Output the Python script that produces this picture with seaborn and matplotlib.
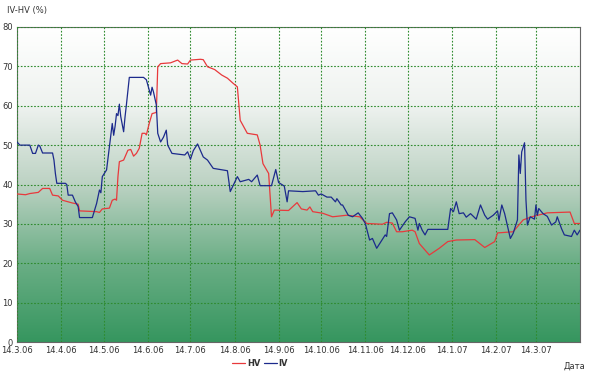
import numpy as np
import pandas as pd
import matplotlib
matplotlib.use("Agg")
import matplotlib.pyplot as plt
import matplotlib.dates as mdates
from matplotlib.colors import LinearSegmentedColormap
from matplotlib.ticker import FuncFormatter
import seaborn as sns

# Data: days since 14.3.06 and value in %
start_date = pd.Timestamp("2006-03-14")

hv_days = [0, 6, 9, 15, 18, 23, 25, 29, 32, 39, 43, 44, 56, 58, 60, 65, 67, 69, 70, 71,
           72, 75, 78, 80, 82, 84, 86, 88, 90, 91, 93, 95, 98, 99, 101, 108, 113, 116, 120, 122,
           129, 131, 134, 139, 144, 148, 152, 155, 157, 162, 169, 171, 173, 177, 179, 181, 191, 197, 200, 204,
           206, 208, 215, 222, 232, 241, 246, 257, 260, 264, 267, 271, 278, 280, 283, 290, 297, 303, 309, 322,
           329, 336, 338, 349, 356, 362, 373, 389, 392, 396]
hv_values = [37.6, 37.4, 37.7, 38.0, 39.0, 39.0, 37.3, 37.1, 36.0, 35.3, 35.0, 33.3, 33.1, 32.9, 33.8, 34.0, 36.0, 36.3, 36.0, 42.0,
             45.8, 46.2, 48.7, 48.9, 47.2, 47.9, 49.2, 53.0, 53.0, 52.6, 55.5, 58.0, 58.3, 69.9, 70.7, 70.9, 71.6, 70.7, 70.6, 71.6,
             71.8, 71.7, 69.9, 69.2, 67.8, 67.0, 65.7, 64.8, 56.3, 53.0, 52.6, 50.0, 45.3, 42.8, 31.8, 33.5, 33.4, 35.4, 33.8, 33.5,
             34.3, 33.1, 32.7, 31.8, 32.2, 31.8, 30.1, 29.9, 30.4, 30.2, 28.0, 28.0, 28.4, 28.0, 25.0, 22.1, 23.8, 25.5, 25.9, 26.0,
             24.0, 25.5, 27.7, 28.0, 31.0, 31.8, 32.8, 33.0, 30.1, 30.1]

iv_days = [0, 2, 9, 11, 13, 15, 16, 18, 25, 26, 27, 28, 34, 35, 36, 39, 41, 43, 44, 53,
           56, 58, 59, 60, 63, 65, 67, 68, 69, 70, 71, 72, 73, 75, 76, 77, 79, 89, 91, 94,
           95, 96, 98, 99, 101, 103, 105, 106, 109, 118, 120, 122, 124, 127, 131, 134, 138, 148, 150, 155,
           157, 163, 165, 169, 171, 179, 182, 184, 188, 190, 191, 201, 210, 212, 214, 218, 221, 224, 225, 228,
           229, 233, 236, 240, 243, 245, 248, 250, 253, 256, 259, 260, 262, 264, 267, 269, 273, 276, 280, 282,
           283, 285, 287, 289, 303, 305, 307, 309, 311, 314, 316, 319, 321, 323, 326, 329, 331, 335, 338, 339,
           341, 343, 347, 349, 352, 353, 354, 355, 357, 358, 359, 361, 364, 365, 366, 367, 370, 373, 376, 379,
           380, 383, 385, 390, 392, 394, 396]
iv_values = [50.8, 50.0, 50.0, 47.9, 47.9, 50.0, 49.8, 48.0, 48.0, 46.2, 42.8, 40.3, 40.3, 40.0, 37.3, 37.3, 35.6, 34.4, 31.6, 31.6,
             35.2, 38.6, 37.9, 42.0, 43.7, 49.6, 55.5, 52.5, 54.8, 58.0, 57.5, 60.4, 57.2, 53.4, 57.2, 60.4, 67.2, 67.2, 66.6, 62.7,
             64.7, 63.5, 60.2, 53.0, 50.8, 52.0, 53.8, 50.0, 47.9, 47.5, 48.3, 46.4, 48.6, 50.3, 47.0, 46.2, 44.1, 43.5, 38.2, 42.0,
             40.7, 41.3, 40.7, 42.4, 39.7, 39.7, 43.8, 40.5, 39.6, 35.6, 38.4, 38.2, 38.4, 37.3, 37.6, 36.8, 36.8, 35.6, 36.4, 34.8,
             34.8, 32.2, 31.8, 32.8, 31.4, 30.1, 25.9, 26.3, 23.8, 25.5, 27.2, 26.8, 32.6, 32.8, 31.0, 28.4, 30.5, 31.8, 31.4, 28.4,
             30.1, 28.4, 27.2, 28.6, 28.6, 33.9, 33.1, 35.6, 32.6, 32.8, 31.7, 32.6, 31.9, 31.2, 34.8, 32.2, 31.2, 32.2, 33.3, 30.9,
             34.8, 32.6, 26.3, 27.6, 31.0, 47.5, 42.8, 48.3, 50.6, 36.0, 29.7, 31.8, 31.2, 34.8, 32.2, 33.9, 32.6, 31.9, 29.7, 30.5,
             31.8, 28.8, 27.2, 26.8, 28.4, 27.2, 28.4]

tick_labels = ["14.3.06", "14.4.06", "14.5.06", "14.6.06", "14.7.06", "14.8.06", "14.9.06",
               "14.10.06", "14.11.06", "14.12.06", "14.1.07", "14.2.07", "14.3.07"]

hv = pd.DataFrame({"date": start_date + pd.to_timedelta(hv_days, unit="D"), "value": hv_values})
iv = pd.DataFrame({"date": start_date + pd.to_timedelta(iv_days, unit="D"), "value": iv_values})

sns.set_style("white")
plt.rcParams["font.family"] = ["DejaVu Sans"]

fig = plt.figure(figsize=(6, 3.74), dpi=100)
ax = fig.add_axes([17 / 600, 1 - 342 / 374, 563 / 600, 315 / 374])

x_end = pd.Timestamp("2007-04-14")
ax.set_xlim(start_date, x_end)
ax.set_ylim(0, 80)

# vertical gradient background, white at top to green at bottom
cmap = LinearSegmentedColormap.from_list(
    "bg", [(0.0, "#36965f"), (0.25, "#6aae85"), (0.5, "#bcd2c3"), (0.75, "#eef2ef"), (1.0, "#ffffff")])
grad = np.linspace(0, 1, 256).reshape(-1, 1)
ax.imshow(grad, cmap=cmap, aspect="auto", origin="lower",
          extent=[mdates.date2num(start_date), mdates.date2num(x_end), 0, 80], zorder=0)

sns.lineplot(data=hv, x="date", y="value", ax=ax, color="#e8393c", linewidth=0.9, label="HV", zorder=3)
sns.lineplot(data=iv, x="date", y="value", ax=ax, color="#1c2a8c", linewidth=0.9, label="IV", zorder=4)

tick_dates = [start_date + pd.DateOffset(months=i) for i in range(len(tick_labels))]
ax.set_xticks(tick_dates)
ax.set_xticklabels(tick_labels)
ax.set_yticks(range(0, 81, 10))
ax.tick_params(axis="both", length=0, labelsize=6, labelcolor="#333333", pad=3)

ax.grid(True, color="#2e8b2e", linestyle=(0, (1.5, 1.5)), linewidth=0.8, zorder=2)
ax.set_axisbelow(False)
for s in ax.spines.values():
    s.set_color("#666666")
    s.set_linewidth(0.8)

ax.set_xlabel("")
ax.set_ylabel("")
fig.text(7 / 600, 1 - 10 / 374, "IV-HV (%)", fontsize=6, color="#333333", va="center", ha="left")
fig.text(585 / 600, 1 - 366 / 374, "Дата", fontsize=6, color="#333333", va="center", ha="right")

leg = ax.legend(loc="center", bbox_to_anchor=(260 / 600, 1 - 363 / 374), bbox_transform=fig.transFigure,
                ncol=2, frameon=False, fontsize=6, handlelength=1.6, handletextpad=0.2, columnspacing=0.4)
for t in leg.get_texts():
    t.set_fontweight("bold")
    t.set_color("#333333")

fig.savefig("out.png", dpi=100)
